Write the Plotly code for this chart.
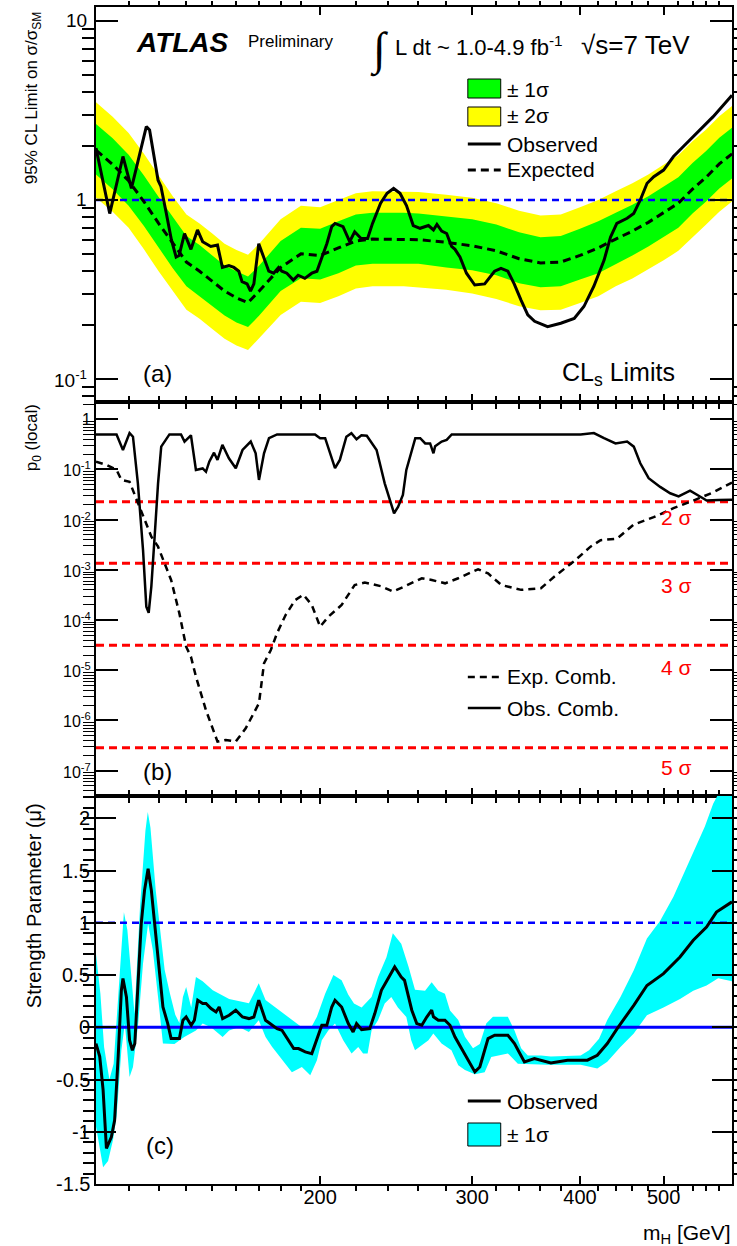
import math
import plotly.graph_objects as go

# ======================= DATA =======================
# ---- Panel (a): 95% CL limit on sigma/sigma_SM ----
mass_exp = [110, 115, 120, 125, 130, 135, 140, 145, 150, 155, 160, 165, 170, 180, 190, 200, 210,
            220, 230, 240, 250, 260, 280, 300, 320, 340, 360, 380, 400, 420, 440, 460, 480, 500,
            520, 540, 560, 580, 600]
exp_limit = [1.90, 1.58, 1.28, 0.98, 0.74, 0.57, 0.45, 0.40, 0.35, 0.31, 0.284, 0.267, 0.31, 0.42,
             0.50, 0.49, 0.54, 0.59, 0.605, 0.605, 0.605, 0.60, 0.58, 0.555, 0.52, 0.47, 0.445,
             0.45, 0.49, 0.54, 0.605, 0.67, 0.75, 0.85, 0.96, 1.15, 1.34, 1.59, 1.81]
exp_plus2 = [3.52, 2.92, 2.37, 1.81, 1.37, 1.05, 0.83, 0.74, 0.65, 0.57, 0.525, 0.494, 0.57, 0.78,
             0.93, 0.91, 1.0, 1.09, 1.12, 1.12, 1.12, 1.11, 1.07, 1.03, 0.96, 0.87, 0.82, 0.83,
             0.91, 1.0, 1.12, 1.24, 1.39, 1.57, 1.78, 2.13, 2.48, 2.94, 3.35]
exp_plus1 = [2.66, 2.21, 1.79, 1.37, 1.04, 0.80, 0.63, 0.56, 0.49, 0.43, 0.40, 0.374, 0.43, 0.59,
             0.70, 0.69, 0.76, 0.83, 0.85, 0.85, 0.85, 0.84, 0.81, 0.78, 0.73, 0.66, 0.62, 0.63,
             0.69, 0.76, 0.85, 0.94, 1.05, 1.19, 1.34, 1.61, 1.88, 2.23, 2.53]
exp_minus1 = [1.39, 1.15, 0.93, 0.715, 0.54, 0.416, 0.33, 0.29, 0.255, 0.226, 0.207, 0.195, 0.226,
              0.31, 0.365, 0.36, 0.39, 0.43, 0.44, 0.44, 0.44, 0.44, 0.42, 0.405, 0.38, 0.343,
              0.325, 0.33, 0.36, 0.39, 0.44, 0.49, 0.55, 0.62, 0.70, 0.84, 0.98, 1.16, 1.32]
exp_minus2 = [1.03, 0.86, 0.70, 0.53, 0.40, 0.31, 0.244, 0.217, 0.19, 0.168, 0.154, 0.145, 0.168,
              0.228, 0.27, 0.266, 0.29, 0.32, 0.33, 0.33, 0.33, 0.326, 0.315, 0.30, 0.28, 0.255,
              0.242, 0.244, 0.266, 0.29, 0.33, 0.364, 0.41, 0.46, 0.52, 0.62, 0.73, 0.86, 0.98]

mass_obs = [110, 114.1, 118.2, 120.9, 125.8, 126.9, 129.8, 130.8, 132.7, 134.5, 136.2, 137.3, 139.3,
            141.7, 144.2, 146.2, 149.4, 152.1, 154.1, 156.8, 158.9, 161.0, 162.4, 164.6, 166.1,
            167.6, 169.8, 172.1, 174.4, 176.7, 179.0, 180.6, 183.0, 186.2, 188.6, 192.0, 195.6,
            198.3, 200.9, 203.6, 206.3, 208.1, 212.6, 216.4, 219.3, 223.1, 227.0, 230.0, 235.0,
            239.1, 243.3, 247.5, 251.8, 256.4, 261.1, 267.0, 270.6, 273.1, 276.6, 280.3, 284.0,
            286.6, 290.4, 295.5, 302.1, 310.2, 318.5, 324.0, 330.0, 335.6, 341.8, 348.0, 354.4,
            366.9, 380.0, 393.9, 404.2, 415.1, 426.5, 433.9, 441.3, 453.6, 461.6, 469.8, 478.4,
            487.0, 499.9, 513.3, 527.0, 550.7, 570.6, 600]
obs_limit = [1.95, 0.84, 1.75, 1.16, 2.57, 2.46, 1.29, 1.19, 0.84, 0.60, 0.48, 0.49, 0.65, 0.53,
             0.68, 0.585, 0.55, 0.56, 0.42, 0.43, 0.42, 0.40, 0.35, 0.34, 0.31, 0.34, 0.57, 0.48,
             0.40, 0.39, 0.42, 0.40, 0.39, 0.357, 0.38, 0.365, 0.39, 0.40, 0.48, 0.57, 0.71, 0.74,
             0.71, 0.585, 0.665, 0.61, 0.61, 0.74, 0.96, 1.09, 1.16, 1.09, 0.93, 0.72, 0.695, 0.72,
             0.68, 0.73, 0.67, 0.65, 0.55, 0.53, 0.48, 0.39, 0.335, 0.34, 0.40, 0.415, 0.40, 0.34,
             0.276, 0.228, 0.21, 0.196, 0.205, 0.218, 0.254, 0.33, 0.46, 0.62, 0.74, 0.79, 0.84,
             1.0, 1.24, 1.35, 1.47, 1.75, 1.99, 2.46, 2.92, 3.85]

# ---- Panel (b): local p0 ----
mass_p0_obs = [110, 116.2, 118.2, 120.3, 121.4, 123.0, 124.7, 125.8, 126.6, 127.5, 128.7, 129.8,
               130.9, 133.8, 138.0, 139.3, 141.7, 143.6, 146.2, 147.5, 148.8, 150.7, 152.1, 154.1,
               156.8, 159.7, 162.6, 166.2, 168.4, 169.9, 172.2, 174.5, 178.3, 197.3, 200.0, 202.7,
               208.1, 210.8, 214.5, 217.4, 220.4, 223.3, 226.5, 232.5, 237.6, 240.8, 243.6, 246.2,
               249.4, 251.7, 255.0, 257.8, 261.2, 264.7, 268.2, 270.6, 271.8, 276.6, 280.3, 284.1,
               400.7, 415.1, 426.5, 439.7, 453.6, 461.7, 469.8, 480.4, 495.4, 508.8, 520.3, 536.5,
               550.9, 560.8, 578.3, 600]
p0_obs = [0.5, 0.5, 0.245, 0.53, 0.45, 0.053, 2.5e-3, 1.85e-4, 1.4e-4, 4.7e-4, 5.4e-3, 0.053,
          0.285, 0.5, 0.5, 0.36, 0.48, 0.098, 0.105, 0.09, 0.143, 0.216, 0.155, 0.31, 0.167, 0.106,
          0.245, 0.36, 0.21, 0.062, 0.21, 0.42, 0.5, 0.5, 0.42, 0.42, 0.106, 0.155, 0.45, 0.53,
          0.40, 0.48, 0.47, 0.245, 0.053, 0.0247, 0.0134, 0.018, 0.031, 0.098, 0.21, 0.42, 0.42,
          0.33, 0.33, 0.21, 0.29, 0.36, 0.39, 0.5, 0.5, 0.53, 0.42, 0.33, 0.36, 0.285, 0.133,
          0.067, 0.045, 0.0336, 0.029, 0.038, 0.029, 0.024, 0.0247, 0.025]
mass_p0_exp = [110, 113.2, 116.2, 117.7, 120.3, 123.5, 127.5, 129.8, 132.1, 134.4, 137.4, 139.9,
               141.7, 143.6, 147.5, 152.1, 155.5, 159.7, 164.0, 169.9, 172.2, 175.3, 178.3, 182.4,
               187.1, 191.3, 195.6, 200.0, 204.5, 211.8, 219.3, 225.3, 235.6, 242.9, 250.6, 262.3,
               269.4, 279.1, 289.1, 304.8, 313.0, 324.3, 341.9, 360.4, 373.4, 393.9, 411.4, 422.6,
               441.6, 461.7, 486.9, 513.3, 541.2, 570.7, 600]
p0_exp = [0.143, 0.123, 0.098, 0.062, 0.057, 0.018, 4.6e-3, 2.9e-3, 1.35e-3, 6.3e-4, 1.36e-4,
          2.95e-5, 1.86e-5, 7.5e-6, 1.6e-6, 3.8e-7, 4.1e-7, 3.8e-7, 7e-7, 2.2e-6, 1.38e-5, 2.5e-5,
          5.5e-5, 1.26e-4, 2.5e-4, 3.2e-4, 2e-4, 7.4e-5, 1.17e-4, 2e-4, 5e-4, 5.6e-4, 4.7e-4,
          3.7e-4, 4.7e-4, 6.8e-4, 6.3e-4, 5.4e-4, 6.8e-4, 1.03e-3, 8.5e-4, 5e-4, 4e-4, 4.3e-4,
          7.3e-4, 1.5e-3, 2.9e-3, 3.9e-3, 4.2e-3, 8e-3, 0.0112, 0.017, 0.024, 0.035, 0.055]
sigma_labels = ["2 σ", "3 σ", "4 σ", "5 σ"]
sigma_p0 = [0.02275, 0.00135, 3.167e-5, 2.867e-7]

# ---- Panel (c): signal strength mu-hat ----
mass_mu = [110, 111.1, 112.1, 113.1, 114.6, 115.6, 116.7, 117.7, 118.2, 119.3, 120.3, 121.2, 122.0,
           123.1, 124.1, 125.2, 126.4, 127.5, 129.8, 131.5, 133.2, 134.4, 137.4, 138.7, 139.9,
           141.8, 143.0, 144.3, 146.2, 147.5, 149.5, 151.5, 152.8, 154.2, 156.9, 159.7, 162.6,
           165.4, 167.6, 169.8, 172.9, 176.0, 178.3, 180.7, 183.1, 186.4, 188.8, 192.2, 195.6,
           198.3, 200.9, 203.6, 206.3, 208.1, 211.8, 215.6, 218.4, 220.4, 223.4, 228.3, 231.4,
           235.5, 240.7, 244.0, 248.3, 250.5, 253.2, 255.4, 258.8, 262.3, 265.8, 269.3, 270.6,
           274.1, 279.0, 282.8, 286.6, 290.3, 295.5, 302.2, 306.2, 313.0, 318.6, 330.0, 335.9,
           344.9, 354.2, 370.1, 386.9, 408.0, 418.9, 430.2, 441.7, 461.7, 478.2, 499.8, 522.3,
           541.1, 560.6, 575.6, 600]
mu_obs = [-0.156, -0.28, -0.60, -1.16, -1.05, -0.89, -0.28, 0.354, 0.466, 0.29, -0.124, -0.22,
          -0.156, 0.51, 0.99, 1.31, 1.517, 1.31, 0.64, 0.194, 0.035, -0.108, -0.108, 0.067, 0.098,
          0.019, 0.067, 0.258, 0.227, 0.227, 0.179, 0.146, 0.194, 0.083, 0.115, 0.163, 0.098,
          0.083, 0.098, 0.258, 0.067, 0.019, -0.013, -0.03, -0.108, -0.204, -0.204, -0.236,
          -0.252, -0.108, 0.019, 0.019, 0.194, 0.258, 0.194, 0.035, -0.045, 0.035, -0.022, -0.013,
          0.131, 0.354, 0.497, 0.577, 0.481, 0.449, 0.29, 0.163, 0.035, 0.019, 0.098, 0.163, 0.10,
          0.067, 0.067, 0.019, -0.093, -0.172, -0.284, -0.427, -0.38, -0.108, -0.076, -0.076,
          -0.156, -0.332, -0.30, -0.341, -0.315, -0.315, -0.268, -0.156, -0.013, 0.21, 0.40,
          0.513, 0.672, 0.832, 0.959, 1.102, 1.20]
mass_mu_hi = [110, 111.3, 112.4, 114.0, 115.3, 116.3, 117.6, 118.5, 119.6, 120.9, 121.9, 123.7,
              125.5, 126.3, 127.2, 129.0, 130.9, 132.1, 134.0, 135.9, 137.4, 138.7, 139.9, 141.8,
              143.6, 146.2, 150.2, 156.9, 165.4, 169.8, 172.9, 177.5, 183.9, 190.5, 195.6, 198.3,
              202.7, 207.2, 211.8, 215.6, 218.9, 223.4, 229.4, 233.4, 238.7, 242.8, 248.3, 253.2,
              257.6, 264.6, 269.3, 274.1, 279.0, 282.8, 289.1, 294.3, 300.7, 306.2, 311.5, 317.1,
              330.0, 335.9, 341.9, 348.0, 360.5, 370.1, 400.7, 409.8, 420.8, 430.2, 445.6, 461.7,
              478.2, 495.4, 513.2, 536.3, 558.1, 570.6, 578.3, 600]
mu_hi = [0.70, 0.32, -0.19, -0.50, -0.35, 0.13, 0.77, 1.10, 0.93, 0.45, 0.13, 1.15, 1.88, 2.06,
         1.91, 1.31, 0.83, 0.55, 0.32, 0.12, 0.04, 0.29, 0.385, 0.19, 0.48, 0.44, 0.354, 0.27,
         0.23, 0.42, 0.26, 0.19, 0.10, 0.00, 0.01, 0.10, 0.32, 0.50, 0.45, 0.31, 0.227, 0.19,
         0.29, 0.48, 0.67, 0.90, 0.80, 0.58, 0.36, 0.35, 0.43, 0.35, 0.32, 0.16, 0.07, -0.09,
         -0.20, -0.16, 0.035, 0.10, 0.10, -0.03, -0.20, -0.27, -0.27, -0.28, -0.27, -0.22, -0.11,
         0.07, 0.29, 0.545, 0.85, 1.02, 1.25, 1.60, 1.92, 2.14, 2.23, 2.6]
mass_mu_lo = [110, 112.1, 113.6, 115.1, 116.2, 117.7, 118.8, 119.8, 120.3, 121.4, 123.1, 124.7,
              126.4, 128.0, 129.8, 131.5, 133.2, 135.6, 139.2, 143.6, 146.2, 149.5, 154.2, 156.9,
              161.1, 165.4, 169.8, 172.9, 176.0, 180.7, 185.5, 190.5, 194.8, 198.3, 200.9, 204.4,
              208.1, 212.7, 217.5, 221.4, 224.3, 227.0, 229.4, 233.4, 237.6, 241.8, 246.1, 251.7,
              255.0, 257.6, 267.0, 270.5, 276.5, 283.9, 289.1, 294.3, 302.2, 310.2, 315.7, 330.0,
              338.9, 366.9, 400.7, 418.9, 430.2, 445.6, 461.7, 478.2, 499.8, 522.3, 541.1, 560.6,
              578.3, 600]
mu_lo = [-0.95, -1.34, -1.28, -1.08, -0.85, -0.22, 0.035, -0.28, -0.475, -0.38, 0.035, 0.61,
         0.99, 0.74, 0.29, -0.156, -0.156, -0.16, -0.093, -0.03, 0.035, 0.00, -0.093, -0.03,
         0.003, -0.045, 0.067, -0.093, -0.19, -0.315, -0.43, -0.38, -0.46, -0.315, -0.124, -0.03,
         0.035, -0.124, -0.25, -0.188, -0.25, -0.25, -0.03, 0.067, 0.227, 0.29, 0.19, 0.098,
         -0.124, -0.22, -0.124, -0.06, -0.156, -0.22, -0.363, -0.41, -0.45, -0.43, -0.284, -0.25,
         -0.35, -0.36, -0.36, -0.395, -0.33, -0.19, -0.06, 0.115, 0.19, 0.27, 0.35, 0.40, 0.47,
         0.44]

# ---- axes ----
mass_range = [110, 600]
x_tick_vals = [200, 300, 400, 500]
x_tick_text = ["200", "300", "400", "500"]
x_minor_vals = [120, 130, 140, 150, 160, 170, 180, 190, 220, 240, 260, 280, 320, 340, 360, 380,
                420, 440, 460, 480, 520, 540, 560, 580]
ya_range = [0.0744, 11.97]
ya_tick_vals = [0.1, 1, 10]
ya_tick_text = ["10<sup>-1</sup>", "1", "10"]
yb_range = [3.13e-8, 2.21]
yb_tick_vals = [1e-7, 1e-6, 1e-5, 1e-4, 1e-3, 1e-2, 1e-1, 1]
yb_tick_text = ["10<sup>-7</sup>", "10<sup>-6</sup>", "10<sup>-5</sup>", "10<sup>-4</sup>",
                "10<sup>-3</sup>", "10<sup>-2</sup>", "10<sup>-1</sup>", "1"]
yc_range = [-1.5, 2.213]
yc_tick_vals = [-1.5, -1, -0.5, 0, 0.5, 1, 1.5, 2]
yc_tick_text = ["-1.5", "-1", "-0.5", "0", "0.5", "1", "1.5", "2"]

# ======================= FIGURE =======================
FONT = "Liberation Sans"
W, H = 737, 1246
ML, MR, MT, MB = 96, 3, 7, 62
PW, PH = W - ML - MR, H - MT - MB


def px(x):
    return (x - ML) / PW


def py(y):
    return (H - MB - y) / PH


def log_minor(lo_exp, hi_exp):
    return [k * 10 ** e for e in range(lo_exp, hi_exp + 1) for k in range(2, 10)]


fig = go.Figure()
xa = dict(xaxis="x", yaxis="y")
xb = dict(xaxis="x2", yaxis="y2")
xc = dict(xaxis="x3", yaxis="y3")

# ---- panel a ----
fig.add_trace(go.Scatter(x=mass_exp + mass_exp[::-1], y=exp_plus2 + exp_minus2[::-1],
                         fill="toself", fillcolor="#FFFF00", line=dict(width=0), mode="lines",
                         showlegend=False, hoverinfo="skip", **xa))
fig.add_trace(go.Scatter(x=mass_exp + mass_exp[::-1], y=exp_plus1 + exp_minus1[::-1],
                         fill="toself", fillcolor="#00FF00", line=dict(width=0), mode="lines",
                         showlegend=False, hoverinfo="skip", **xa))
fig.add_trace(go.Scatter(x=mass_range, y=[1, 1], mode="lines",
                         line=dict(color="#0000FF", width=2.5, dash="7px,5px"),
                         showlegend=False, **xa))
fig.add_trace(go.Scatter(x=mass_exp, y=exp_limit, mode="lines",
                         line=dict(color="black", width=3, dash="8px,5px"),
                         showlegend=False, **xa))
fig.add_trace(go.Scatter(x=mass_obs, y=obs_limit, mode="lines",
                         line=dict(color="black", width=3), showlegend=False, **xa))

# ---- panel b ----
for p in sigma_p0:
    fig.add_trace(go.Scatter(x=mass_range, y=[p, p], mode="lines",
                             line=dict(color="#FF0000", width=3, dash="8px,5px"),
                             showlegend=False, **xb))
fig.add_trace(go.Scatter(x=mass_p0_exp, y=p0_exp, mode="lines",
                         line=dict(color="black", width=2.5, dash="7px,5px"),
                         showlegend=False, **xb))
fig.add_trace(go.Scatter(x=mass_p0_obs, y=p0_obs, mode="lines",
                         line=dict(color="black", width=2.5), showlegend=False, **xb))

# ---- panel c ----
fig.add_trace(go.Scatter(x=mass_mu_hi + mass_mu_lo[::-1], y=mu_hi + mu_lo[::-1],
                         fill="toself", fillcolor="#00FFFF", line=dict(width=0), mode="lines",
                         showlegend=False, hoverinfo="skip", **xc))
fig.add_trace(go.Scatter(x=mass_range, y=[0, 0], mode="lines",
                         line=dict(color="#0000FF", width=3), showlegend=False, **xc))
fig.add_trace(go.Scatter(x=mass_range, y=[1, 1], mode="lines",
                         line=dict(color="#0000FF", width=2.5, dash="7px,5px"),
                         showlegend=False, **xc))
fig.add_trace(go.Scatter(x=mass_mu, y=mu_obs, mode="lines",
                         line=dict(color="black", width=3), showlegend=False, **xc))

# ---- axes ----
common = dict(showline=True, linecolor="black", linewidth=2, mirror="ticks", ticks="inside",
              tickcolor="black", tickwidth=1.5, showgrid=False, zeroline=False,
              tickmode="array")


def x_axis(anchor, labels):
    d = dict(common, type="log", domain=[0, 1], anchor=anchor,
             range=[math.log10(mass_range[0]), math.log10(mass_range[1])],
             tickvals=x_tick_vals, ticktext=x_tick_text, ticklen=8,
             showticklabels=labels, ticklabelstandoff=-6,
             tickfont=dict(family=FONT, size=20, color="black"),
             minor=dict(tickmode="array", tickvals=x_minor_vals, ticklen=4.5, tickwidth=1.5,
                        tickcolor="black", showgrid=False))
    return d


dom_c = [0, py(796)]
dom_b = [py(796), py(402)]
dom_a = [py(402), 1]

fig.update_layout(
    width=W, height=H, autosize=False,
    margin=dict(l=ML, r=MR, t=MT, b=MB, pad=0),
    paper_bgcolor="white", plot_bgcolor="white",
    showlegend=False,
    xaxis=x_axis("y", False),
    xaxis2=x_axis("y2", False),
    xaxis3=x_axis("y3", True),
    yaxis=dict(common, type="log", domain=dom_a, anchor="x",
               range=[math.log10(ya_range[0]), math.log10(ya_range[1])],
               tickvals=ya_tick_vals, ticklen=22, showticklabels=False,
               minor=dict(tickmode="array", tickvals=log_minor(-2, 1), ticklen=12,
                          tickwidth=1.5, tickcolor="black", showgrid=False)),
    yaxis2=dict(common, type="log", domain=dom_b, anchor="x2",
                range=[math.log10(yb_range[0]), math.log10(yb_range[1])],
                tickvals=yb_tick_vals, ticklen=22, showticklabels=False,
                minor=dict(tickmode="array", tickvals=log_minor(-8, 0), ticklen=11,
                           tickwidth=1.2, tickcolor="black", showgrid=False)),
    yaxis3=dict(common, domain=dom_c, anchor="x3", range=yc_range,
                tickvals=yc_tick_vals, ticklen=20, showticklabels=False,
                minor=dict(tickmode="linear", tick0=0, dtick=0.1, ticklen=11, tickwidth=1.5,
                           tickcolor="black", showgrid=False)),
)


def ann(text, x, y, size, xanchor="left", yanchor="middle", color="black", family=FONT, angle=0):
    return dict(text=text, x=px(x), y=py(y), xref="paper", yref="paper", xanchor=xanchor,
                yanchor=yanchor, showarrow=False, textangle=angle,
                font=dict(size=size, family=family, color=color))


def tick_label(text, yval, yref, right_px, size, shift=0):
    return dict(text=text, x=px(right_px), xref="paper", xanchor="right", y=yval, yref=yref,
                yanchor="middle", yshift=shift, showarrow=False,
                font=dict(size=size, family=FONT, color="black"))


annotations = [
    ann("<b><i>ATLAS</i></b>", 134, 43, 28),
    ann("Preliminary", 246, 42, 17),
    ann("∫", 380, 50, 46, xanchor="center", family="Liberation Serif"),
    ann("L dt ~ 1.0-4.9 fb<sup>-1</sup>", 394, 46, 22),
    ann("√s=7 TeV", 581, 45, 26),
    ann("CL<sub>s</sub> Limits", 561, 374, 25),
    ann("(a)", 158, 373, 24, xanchor="center"),
    ann("(b)", 158, 772, 24, xanchor="center"),
    ann("(c)", 160, 1145, 24, xanchor="center"),
    ann("± 1σ", 506, 89, 21),
    ann("± 2σ", 506, 116, 21),
    ann("Observed", 506, 144, 21),
    ann("Expected", 506, 170, 21),
    ann("Exp. Comb.", 506, 677, 21),
    ann("Obs. Comb.", 506, 708, 21),
    ann("Observed", 506, 1101, 21),
    ann("± 1σ", 506, 1134, 21),
    ann("95% CL Limit on σ/σ<sub>SM</sub>", 33, 98, 17, xanchor="center", angle=-90),
    ann("p<sub>0</sub> (local)", 33, 438, 17, xanchor="center", angle=-90),
    ann("Strength Parameter (μ\u0302)", 34, 906, 20, xanchor="center", angle=-90),
    ann("m<sub>H</sub> [GeV]", 735, 1234, 21, xanchor="right"),
]
sigma_label_y = [517, 585, 667, 767]
for lab, yy in zip(sigma_labels, sigma_label_y):
    annotations.append(ann(lab, 696, yy, 21, xanchor="right", color="#FF0000"))

# y tick labels (real text, placed at the tick values of each axis)
for v, t in zip(ya_tick_vals, ya_tick_text):
    annotations.append(tick_label(t, math.log10(v), "y", 89, 19))
for v, t in zip(yb_tick_vals, yb_tick_text):
    annotations.append(tick_label(t, math.log10(v), "y2", 93, 16))
for v, t in zip(yc_tick_vals, yc_tick_text):
    annotations.append(tick_label(t, v, "y3", 92, 20))

shapes = [
    dict(type="rect", xref="paper", yref="paper", x0=px(469), x1=px(502), y0=py(79), y1=py(98),
         fillcolor="#00FF00", line=dict(color="black", width=1)),
    dict(type="rect", xref="paper", yref="paper", x0=px(469), x1=px(502), y0=py(107), y1=py(126),
         fillcolor="#FFFF00", line=dict(color="black", width=1)),
    dict(type="line", xref="paper", yref="paper", x0=px(469), x1=px(502), y0=py(144), y1=py(144),
         line=dict(color="black", width=3)),
    dict(type="line", xref="paper", yref="paper", x0=px(469), x1=px(502), y0=py(170), y1=py(170),
         line=dict(color="black", width=3, dash="8px,5px")),
    dict(type="line", xref="paper", yref="paper", x0=px(469), x1=px(502), y0=py(677), y1=py(677),
         line=dict(color="black", width=2.5, dash="7px,5px")),
    dict(type="line", xref="paper", yref="paper", x0=px(469), x1=px(502), y0=py(708), y1=py(708),
         line=dict(color="black", width=2.5)),
    dict(type="line", xref="paper", yref="paper", x0=px(469), x1=px(502), y0=py(1101), y1=py(1101),
         line=dict(color="black", width=3)),
    dict(type="rect", xref="paper", yref="paper", x0=px(469), x1=px(502), y0=py(1123), y1=py(1146),
         fillcolor="#00FFFF", line=dict(color="black", width=1)),
]

fig.update_layout(annotations=annotations, shapes=shapes)
fig.write_html("out.html")
